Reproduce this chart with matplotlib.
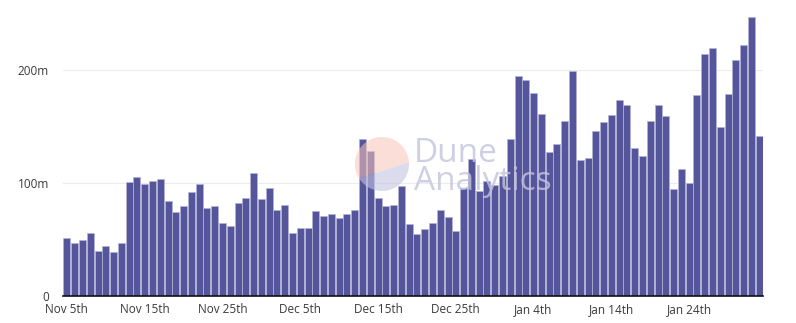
import datetime
import numpy as np
from matplotlib import pyplot as plt
from matplotlib.patches import Polygon

START_DATE = datetime.date(2020, 11, 5)

# daily volume, in millions
volume_m = [
	51, 46.6, 49.9, 55.8, 39.8, 44, 39, 46.9, 101, 105.6,
	98.8, 101.8, 103.5, 84.4, 74.6, 80, 91.7, 99, 77.9, 79.4,
	64.9, 62, 82.3, 86.7, 108.6, 85.8, 95.3, 76.4, 80.5, 56,
	60.5, 59.9, 74.9, 71.1, 72.9, 69, 72.3, 75.8, 138.6, 128.6,
	87, 79.6, 80.5, 97.6, 63.4, 55.2, 59.3, 64.3, 75.8, 70.2,
	57.8, 95.3, 121.5, 93.2, 101.5, 98.2, 106.5, 138.6, 194.4, 190.9,
	180, 160.8, 127.1, 134.5, 154.9, 198.8, 120, 122.4, 145.7, 153.7,
	159.9, 173.5, 168.7, 131, 123.9, 154.6, 169, 159.6, 95, 112.1,
	100, 177.6, 213.9, 219.2, 149.6, 178.5, 208.8, 222.1, 246.9, 141.6,
]

y_ticks = [0, 100, 200]
y_tick_labels = ["0", "100m", "200m"]
x_tick_step = 10


def ordinal(day):
	if 10 <= day % 100 <= 20:
		return "th"
	return {1: "st", 2: "nd", 3: "rd"}.get(day % 10, "th")


def day_label(i):
	d = START_DATE + datetime.timedelta(days=i)
	return d.strftime("%b ") + str(d.day) + ordinal(d.day)


plt.rcParams['font.family'] = ['Open Sans', 'DejaVu Sans']

W, H = 796, 323
fig = plt.figure(figsize=(W / 100, H / 100), dpi=100)
ax = fig.add_axes([63 / W, (H - 296) / H, 700 / W, 288 / H])

x = np.arange(len(volume_m))
ax.bar(x, volume_m, width=0.9, color='#55559c', edgecolor='#b4b4d8', linewidth=0.5, zorder=2)

ax.set_xlim(-0.5, len(volume_m) - 0.5)
ax.set_ylim(0, 255)

ticks = list(range(0, len(volume_m), x_tick_step))
ax.set_xticks(ticks)
ax.set_xticklabels([day_label(i) for i in ticks])
ax.set_yticks(y_ticks)
ax.set_yticklabels(y_tick_labels)
ax.tick_params(axis='both', length=0, labelsize=8.5, labelcolor='#3a3a3a')
ax.tick_params(axis='x', pad=5)
ax.tick_params(axis='y', pad=10)

for s in ['top', 'right', 'left']:
	ax.spines[s].set_visible(False)
ax.spines['bottom'].set_color('#111111')
ax.spines['bottom'].set_linewidth(1.2)
ax.spines['bottom'].set_zorder(3)

for v in y_ticks[1:]:
	ax.axhline(v, color='#ececec', linewidth=0.8, zorder=1)

# watermark logo: circle split by a slanted chord
cx, cy, r = 382, 164, 27
logo = fig.add_axes([(cx - r) / W, (H - cy - r) / H, 2 * r / W, 2 * r / H])
logo.set_xlim(-1, 1)
logo.set_ylim(-1, 1)
logo.axis('off')
a1, a2 = np.deg2rad(4), np.deg2rad(212)
t_up = np.linspace(a1, a2, 80)
t_dn = np.linspace(a2, a1 + 2 * np.pi, 80)
logo.add_patch(Polygon(np.c_[np.cos(t_up), np.sin(t_up)], closed=True,
	facecolor='#f8c4b6', edgecolor='none', alpha=0.55))
logo.add_patch(Polygon(np.c_[np.cos(t_dn), np.sin(t_dn)], closed=True,
	facecolor='#c2c4e0', edgecolor='none', alpha=0.6))

fig.text(414 / W, 1 - 190 / H, "Dune\nAnalytics", fontsize=24, color='#c4c4de', alpha=0.8,
	va='baseline', ha='left', linespacing=0.82, fontweight='medium')

fig.savefig('out.png', dpi=100)
